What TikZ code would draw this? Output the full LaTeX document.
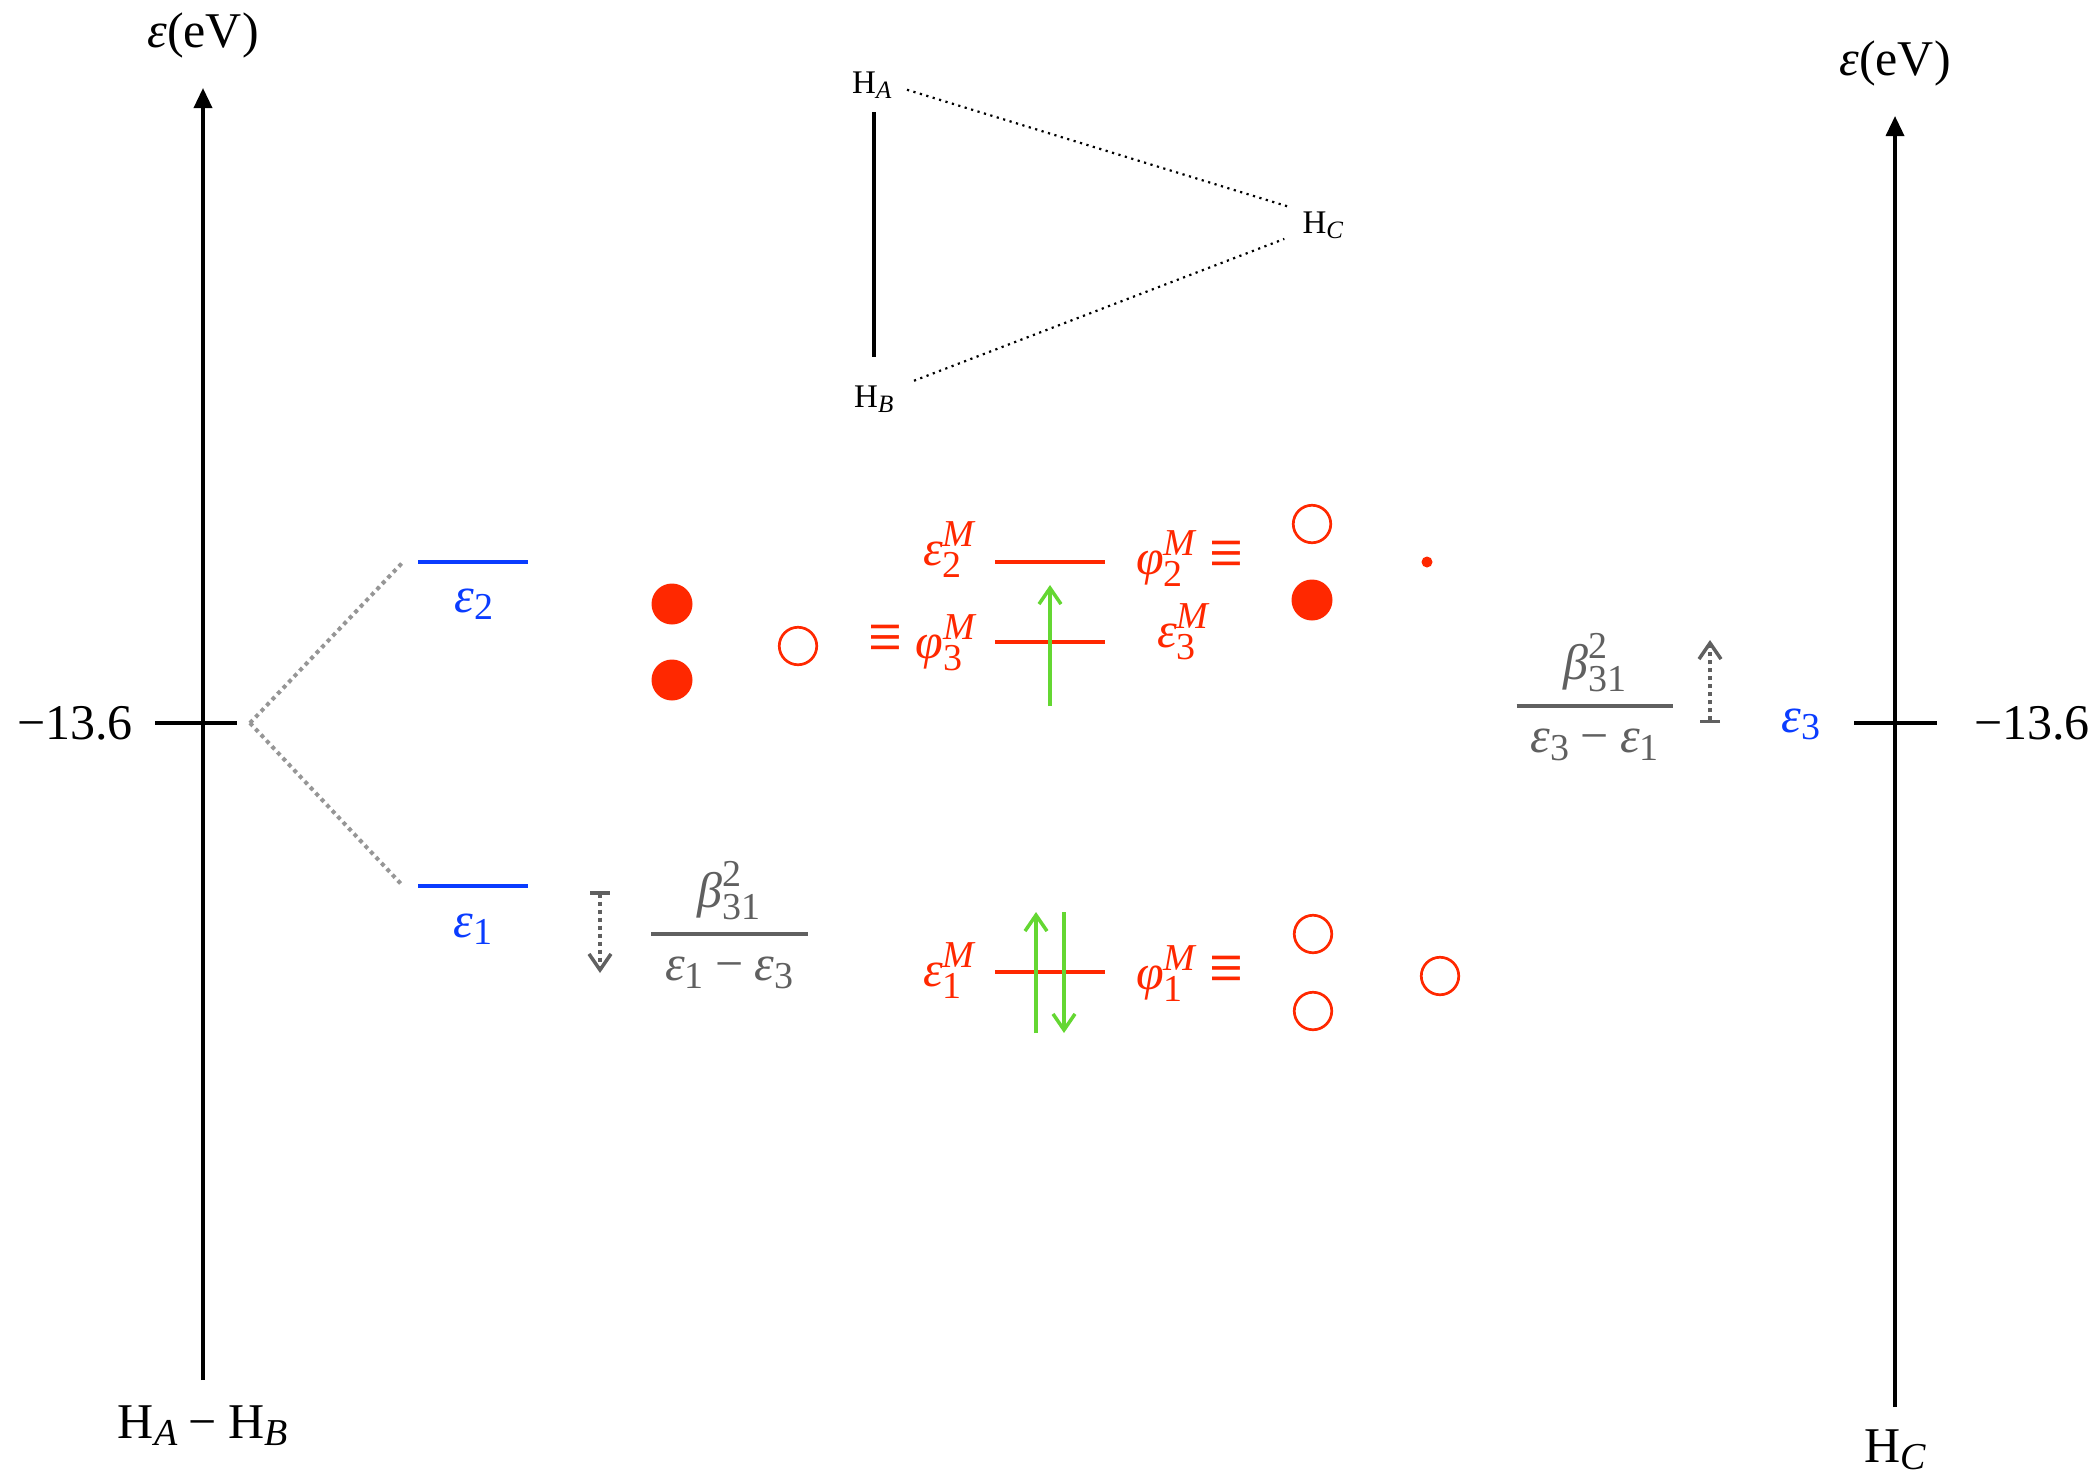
\RequirePackage{fix-cm}
\documentclass[tikz,border=0pt]{standalone}
\usepackage{amsmath}
\usepackage{graphicx}
\usepackage{fontspec}
\setmainfont{Liberation Serif}
\usetikzlibrary{arrows.meta}
\DeclareMathSizes{50}{50}{38}{30}
\DeclareMathSizes{33}{33}{25}{20}
\definecolor{lvlblue}{RGB}{10,60,255}
\definecolor{mored}{RGB}{255,40,0}
\definecolor{spingreen}{RGB}{100,215,50}
\definecolor{gtext}{RGB}{96,96,96}
\definecolor{gdot}{RGB}{150,150,150}
\newcommand{\ti}[1]{\text{\itshape #1}}
\newcommand{\tr}[1]{\text{#1}}
\newcommand{\mminus}{\mathbin{\text{−}}}
\newcommand{\idt}{\mathrel{\text{\raisebox{-0.06em}{\scalebox{1.2}[1.45]{≡}}}}}
\begin{document}
\begin{tikzpicture}[x=1pt,y=-1pt,
 big/.style={inner sep=0pt, font=\fontsize{50}{60}\selectfont},
 small/.style={inner sep=0pt, font=\fontsize{33}{40}\selectfont},
 axisline/.style={line width=3.5pt,-{Triangle[length=20pt,width=18pt]}},
 tickline/.style={line width=3.5pt},
 lvl/.style={line width=4pt},
 spin/.style={draw=spingreen,line width=3.5pt,-{Straight Barb[length=16pt,width=22pt,line width=3.5pt]}},
 shiftarrow/.style={draw=gtext,line width=3.5pt,dash pattern=on 4pt off 4pt,{Bar[width=20pt,line width=3.5pt]}-{Straight Barb[length=16pt,width=22pt,line width=3.5pt]}},
 corr/.style={draw=gdot,line width=4pt,dash pattern=on 4pt off 4pt},
 tridot/.style={line width=2.2pt,dash pattern=on 2.2pt off 4.5pt},
 flobe/.style={circle,minimum size=41pt,inner sep=0pt,fill=mored},
 olobe/.style={circle,minimum size=37.5pt,inner sep=0pt,draw=mored,line width=2.7pt},
 tinylobe/.style={circle,minimum size=11pt,inner sep=0pt,fill=mored}
]
\useasboundingbox (0,0) rectangle (2098,1475);

% axes
\node[big,anchor=base] (ylabL) at (203,47) {\textit{ε}(eV)};
\node[big,anchor=base] (ylabR) at (1895,75) {\textit{ε}(eV)};
\node[big,anchor=base] (molAB) at (203,1438) {$\tr{H}_{\ti{A}}\mminus\tr{H}_{\ti{B}}$};
\node[big,anchor=base] (molC) at (1895,1462) {$\tr{H}_{\ti{C}}$};
\coordinate (axLb) at (203,1380); \coordinate (axLt) at (203,88);
\coordinate (axRb) at (1895,1407); \coordinate (axRt) at (1895,116);
\draw[axisline] (axLb) -- (axLt);
\draw[axisline] (axRb) -- (axRt);
\coordinate (tkL1) at (155,723); \coordinate (tkL2) at (237,723);
\coordinate (tkR1) at (1854,723); \coordinate (tkR2) at (1937,723);
\draw[tickline] (tkL1) -- (tkL2);
\draw[tickline] (tkR1) -- (tkR2);
\node[big] (valL) at (75,723) {−13.6};
\node[big] (valR) at (2032,723) {−13.6};

% triangle
\node[small,anchor=base] (HA) at (872,93) {$\tr{H}_{\ti{A}}$};
\node[small,anchor=base] (HB) at (874,407) {$\tr{H}_{\ti{B}}$};
\node[small,anchor=base] (HC) at (1323,233) {$\tr{H}_{\ti{C}}$};
\draw[line width=4pt] ([xshift=2pt,yshift=-14pt]HA.south) -- ([yshift=28pt]HB.north);
\draw[tridot] ([xshift=15pt,yshift=-5pt]HA.east) -- ([xshift=-13pt,yshift=18pt]HC.west);
\draw[tridot] ([xshift=20pt,yshift=18pt]HB.east) -- ([xshift=-18pt,yshift=-14pt]HC.west);

% H_A - H_B levels
\coordinate (e2L) at (418,562); \coordinate (e2R) at (528,562);
\coordinate (e1L) at (418,886); \coordinate (e1R) at (528,886);
\coordinate (split) at (250,723);
\draw[lvl,lvlblue] (e2L) -- (e2R);
\draw[lvl,lvlblue] (e1L) -- (e1R);
\draw[corr] (split) -- ([xshift=-15pt]e2L);
\draw[corr] (split) -- ([xshift=-15pt]e1L);
\node[big,anchor=base,text=lvlblue] (e2lab) at (474,612) {$\ti{ε}_{\tr{2}}$};
\node[big,anchor=base,text=lvlblue] (e1lab) at (473,937) {$\ti{ε}_{\tr{1}}$};
\node[big,anchor=base,text=lvlblue] (e3lab) at (1801,732) {$\ti{ε}_{\tr{3}}$};

% molecular levels
\coordinate (m2L) at (995,562); \coordinate (m2R) at (1105,562);
\coordinate (m3L) at (995,642); \coordinate (m3R) at (1105,642);
\coordinate (m1L) at (995,972); \coordinate (m1R) at (1105,972);
\draw[lvl,mored] (m2L) -- (m2R);
\draw[lvl,mored] (m3L) -- (m3R);
\draw[lvl,mored] (m1L) -- (m1R);
\node[big,anchor=base,text=mored] (m2lab) at (949,565) {$\ti{ε}_{\tr{2}}^{\ti{M}}$};
\node[big,anchor=base,text=mored] (m3lab) at (1183,647) {$\ti{ε}_{\tr{3}}^{\ti{M}}$};
\node[big,anchor=base,text=mored] (m1lab) at (949,986) {$\ti{ε}_{\tr{1}}^{\ti{M}}$};
\node[big,anchor=base,text=mored] (phi2) at (1190,574) {$\ti{φ}_{\tr{2}}^{\ti{M}}\idt$};
\node[big,anchor=base,text=mored] (phi3) at (922,658) {$\idt\ti{φ}_{\tr{3}}^{\ti{M}}$};
\node[big,anchor=base,text=mored] (phi1) at (1190,989) {$\ti{φ}_{\tr{1}}^{\ti{M}}\idt$};

% orbital lobes
\node[flobe] (a1) at (672,604) {};
\node[flobe] (a2) at (672,680) {};
\node[olobe] (a3) at (798,646) {};
\node[olobe] (b1) at (1312,524) {};
\node[flobe] (b2) at (1312,600) {};
\node[tinylobe] (b3) at (1427,562) {};
\node[olobe] (c1) at (1313,934) {};
\node[olobe] (c2) at (1313,1011) {};
\node[olobe] (c3) at (1440,976) {};

% electrons
\coordinate (s1a) at (1050,706); \coordinate (s1b) at (1050,585);
\coordinate (s2a) at (1036,1033); \coordinate (s2b) at (1036,912);
\coordinate (s3a) at (1064,912); \coordinate (s3b) at (1064,1033);
\draw[spin] (s1a) -- (s1b);
\draw[spin] (s2a) -- (s2b);
\draw[spin] (s3a) -- (s3b);

% shifts
\coordinate (sh1a) at (600,891); \coordinate (sh1b) at (600,973);
\coordinate (sh2a) at (1710,723); \coordinate (sh2b) at (1710,640);
\draw[shiftarrow] (sh1a) -- (sh1b);
\draw[shiftarrow] (sh2a) -- (sh2b);
\node[big,anchor=base,text=gtext] (fracL) at (729.5,946.5) {$\genfrac{}{}{4pt}{0}{\ti{β}^{\tr{2}}_{\tr{31}}}{\;\ti{ε}_{\tr{1}}\mminus\ti{ε}_{\tr{3}}\;}$};
\node[big,anchor=base,text=gtext] (fracR) at (1595,718.5) {$\genfrac{}{}{4pt}{0}{\ti{β}^{\tr{2}}_{\tr{31}}}{\;\ti{ε}_{\tr{3}}\mminus\ti{ε}_{\tr{1}}\;}$};
\end{tikzpicture}
\end{document}
